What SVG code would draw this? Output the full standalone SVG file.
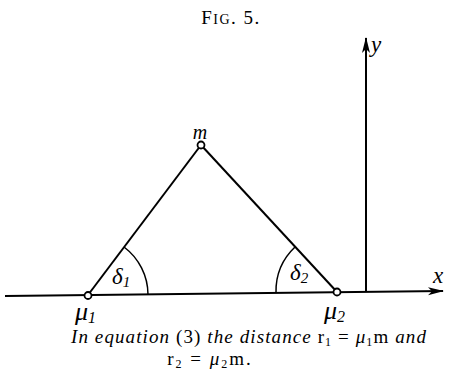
<svg xmlns="http://www.w3.org/2000/svg" width="449" height="371" viewBox="0 0 449 371">
<style>
.ln{stroke:#000;stroke-width:2;fill:none}
.pt{stroke:#000;stroke-width:1.8;fill:#fff}
.lbl{font-family:"Liberation Serif",serif;font-style:italic;fill:#000}
.cap{font-family:"Liberation Serif",serif;font-size:19px;letter-spacing:1.1px;fill:#000}
</style>
<defs>
<marker id="ah" markerWidth="16" markerHeight="10" refX="15" refY="5" orient="auto" markerUnits="userSpaceOnUse">
<path d="M0,1 L16,5 L0,9 L4,5 Z" fill="#000"/>
</marker>
</defs>
<text x="231" y="24" text-anchor="middle" font-family="Liberation Serif,serif" font-size="19" letter-spacing="1.5" fill="#000">F<tspan font-size="14">IG</tspan>. 5.</text>
<g id="connectors">
<line class="ln" x1="5" y1="296" x2="443" y2="291" marker-end="url(#ah)"/>
<line class="ln" x1="366" y1="292" x2="366" y2="38" marker-end="url(#ah)"/>
<line class="ln" x1="88" y1="295" x2="201" y2="145"/>
<line class="ln" x1="201" y1="145" x2="337" y2="292"/>
<path class="ln" style="stroke-width:1.5" d="M124,247 A60,60 0 0 1 148,294.5"/>
<path class="ln" style="stroke-width:1.5" d="M295,247 A61,61 0 0 0 276,292.5"/>
</g>
<g id="m"><circle class="pt" cx="201" cy="145" r="3.5"/><text class="lbl" x="200" y="139" font-size="20" text-anchor="middle">m</text></g>
<g id="mu1"><circle class="pt" cx="88" cy="295.5" r="3.5"/><text class="lbl" x="75" y="320" font-size="26">μ<tspan font-size="16" dy="3">1</tspan></text></g>
<g id="mu2"><circle class="pt" cx="337" cy="292" r="3.5"/><text class="lbl" x="324" y="319" font-size="26">μ<tspan font-size="16" dy="3">2</tspan></text></g>
<g id="d1"><text class="lbl" x="112" y="284" font-size="23">δ<tspan font-size="15" dy="3">1</tspan></text></g>
<g id="d2"><text class="lbl" x="290" y="280" font-size="23">δ<tspan font-size="15" dy="3">2</tspan></text></g>
<g id="xl"><text class="lbl" x="433" y="283" font-size="23">x</text></g>
<g id="yl"><text class="lbl" x="371" y="52" font-size="23">y</text></g>
<text class="cap" x="249" y="343" text-anchor="middle"><tspan font-style="italic">In equation </tspan>(3)<tspan font-style="italic"> the distance </tspan>r<tspan font-size="12" dy="3">1</tspan><tspan dy="-3">  =  </tspan><tspan font-style="italic">μ</tspan><tspan font-size="12" dy="3">1</tspan><tspan dy="-3">m </tspan><tspan font-style="italic">and</tspan></text>
<text class="cap" x="210" y="365" text-anchor="middle" style="letter-spacing:2px">r<tspan font-size="12" dy="3">2</tspan><tspan dy="-3"> = </tspan><tspan font-style="italic">μ</tspan><tspan font-size="12" dy="3">2</tspan><tspan dy="-3">m.</tspan></text>
</svg>
